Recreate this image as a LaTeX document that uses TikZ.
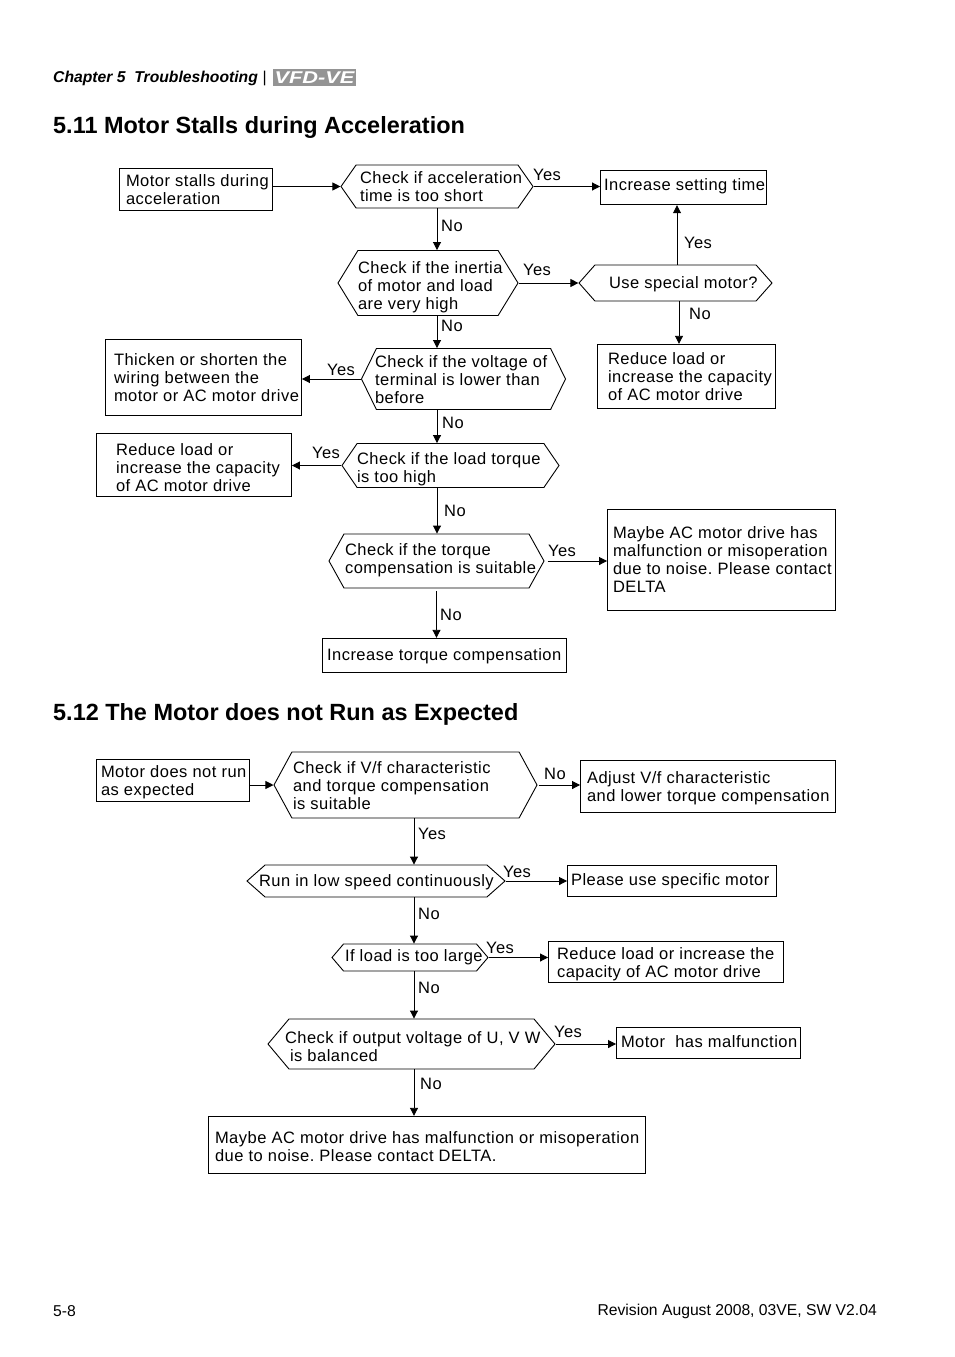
\documentclass[tikz,border=0pt]{standalone}
\usepackage{fontspec}
\usetikzlibrary{arrows.meta,shapes.symbols}
\setmainfont{Liberation Sans}
\newfontfamily\flowfam[LetterSpace=3]{Liberation Sans}
\newcommand{\flowfont}{\flowfam\fontsize{16.5}{18}\selectfont\frenchspacing}
\newcommand{\flowtext}[3][0]{\raisebox{\dimexpr#1pt-6.4pt\relax}[0pt][0pt]{\makebox[#2pt][l]{\begin{tabular}{@{}l@{}}#3\end{tabular}}}}
\tikzset{
  flowbox/.style = {draw, line width=0.9pt, inner sep=0pt, font=\flowfont},
  rectbox/.style 2 args = {flowbox, rectangle, minimum width=#1pt-1pt, minimum height=#2pt-0.5pt},
  hexbox/.style n args = {3}{flowbox, signal, signal to=east and west, signal pointer angle=#3, inner xsep=-40pt, minimum width=#1pt, minimum height=#2pt},
  flowarrow/.style = {-{Triangle[length=8pt,width=8pt]}, line width=0.9pt},
  flowlabel/.style = {font=\flowfont, inner sep=0pt, yshift=-1pt},
  sectiontitle/.style = {anchor=west, inner sep=0pt, font=\fontsize{23.45}{28}\selectfont\bfseries},
  pagetext/.style = {inner sep=0pt, font=\fontsize{15.7}{18}\selectfont},
}
\begin{document}
\begin{tikzpicture}
  [
    x = 1pt,
    y = -1pt,
  ]
  \useasboundingbox (0,0) rectangle (954,1357);

  \node [pagetext, anchor=west, font=\fontsize{15.7}{18}\selectfont\bfseries\itshape] (chapter) at (53,78) {Chapter 5\ \ Troubleshooting};
  \node [pagetext, anchor=west] (chapterbar) at (262.5,78) {|};
  \node [fill=black!42, text=white, minimum width=83pt, minimum height=17pt, inner sep=0pt, font=\fontsize{17}{17}\selectfont\bfseries\itshape] (logo) at (314.5,77.5) {\scalebox{1.28}[1]{VFD-VE}};
  \node [sectiontitle] (titleA) at (53,127) {5.11 Motor Stalls during Acceleration};
  \node [sectiontitle] (titleB) at (53,714) {5.12 The Motor does not Run as Expected};

  \node [rectbox={154}{43}] (stallstart) at (196,189.5) {\flowtext{140}{Motor stalls during\\acceleration}};
  \node [hexbox={192}{43}{110}] (checkaccel) at (437,186.5) {\flowtext{154}{Check if acceleration\\time is too short}};
  \node [rectbox={167}{35}] (settime) at (683.5,187.5) {\flowtext[2.75]{159}{Increase setting time}};
  \node [hexbox={180}{65}{117}] (checkinertia) at (428,283) {\flowtext[-3.25]{140}{Check if the inertia\\of motor and load\\are very high}};
  \node [hexbox={193}{36}{97}] (specialmotor) at (675.5,283) {\flowtext{133}{Use special motor?}};
  \node [rectbox={179}{65}] (reducetop) at (686.5,376.5) {\flowtext[-0.75]{157}{Reduce load or\\increase the capacity\\of AC motor drive}};
  \node [hexbox={204}{61}{128}] (checkvolt) at (463.5,379) {\flowtext[-0.75]{177}{Check if the voltage of\\terminal is lower than\\before}};
  \node [rectbox={197}{77}] (thicken) at (203.5,377.5) {\flowtext[-0.75]{179}{Thicken or shorten the\\wiring between the\\motor or AC motor drive}};
  \node [hexbox={217}{44}{111}] (checktorque) at (450.5,465.5) {\flowtext[-2.25]{187}{Check if the load torque\\is too high}};
  \node [rectbox={196}{64}] (reducemid) at (194,465) {\flowtext[-2.75]{156}{Reduce load or\\increase the capacity\\of AC motor drive}};
  \node [hexbox={215}{54}{122}] (checkcomp) at (436.5,561) {\flowtext[1.75]{183}{Check if the torque\\compensation is suitable}};
  \node [rectbox={229}{102}] (noisetop) at (721.5,560) {\flowtext{217}{Maybe AC motor drive has\\malfunction or misoperation\\due to noise. Please contact\\DELTA}};
  \node [rectbox={245}{35}] (inccomp) at (444.5,655.5) {\flowtext[0.75]{235}{Increase torque compensation}};

  \node [rectbox={154}{43}] (runstart) at (173,780.5) {\flowtext{144}{Motor does not run\\as expected}};
  \node [hexbox={263}{66}{123}] (checkvf) at (405.5,785) {\flowtext[-0.75]{225}{Check if V/f characteristic\\and torque compensation\\is suitable}};
  \node [rectbox={256}{53}] (adjustvf) at (708,786.5) {\flowtext[-0.75]{242}{Adjust V/f characteristic\\and lower torque compensation}};
  \node [hexbox={258}{32}{83}] (lowspeed) at (376,881) {\flowtext{234}{Run in low speed continuously}};
  \node [rectbox={210}{32}] (specific) at (672,881) {\flowtext[1.25]{202}{Please use specific motor}};
  \node [hexbox={156}{27}{99}] (loadlarge) at (410,957.5) {\flowtext[1.25]{130}{If load is too large}};
  \node [rectbox={236}{42}] (reducelow) at (666,962) {\flowtext[-0.75]{218}{Reduce load or increase the\\capacity of AC motor drive}};
  \node [hexbox={287}{50}{100}] (checkoutput) at (411.5,1044) {\flowtext[-2.75]{253}{Check if output voltage of U, V W\\\hspace*{5pt}is balanced}};
  \node [rectbox={185}{32}] (motorfault) at (708.5,1043) {\flowtext[1.25]{175}{Motor\ \ has malfunction}};
  \node [rectbox={438}{58}] (noiselow) at (427,1145) {\flowtext[-1.75]{424}{Maybe AC motor drive has malfunction or misoperation\\due to noise. Please contact DELTA.}};

  \draw [flowarrow] (stallstart.east |- checkaccel.west) -- (checkaccel.west);
  \draw [flowarrow] (checkaccel.east) -- (checkaccel.east -| settime.west)
    node [flowlabel] (yesaccel) at (547,174) {Yes};
  \draw [flowarrow] (checkaccel.south) -- (checkaccel.south |- checkinertia.north)
    node [flowlabel] (noaccel) at (452,225) {No};
  \draw [flowarrow] (checkinertia.east) -- (specialmotor.west)
    node [flowlabel] (yesinertia) at (537,269) {Yes};
  \draw [flowarrow] ([xshift=1.5pt]specialmotor.north) -- ([xshift=1.5pt]specialmotor.north |- settime.south)
    node [flowlabel] (yesspecial) at (698,242) {Yes};
  \draw [flowarrow] ([xshift=3.5pt]specialmotor.south) -- ([xshift=3.5pt]specialmotor.south |- reducetop.north)
    node [flowlabel] (nospecial) at (700,313) {No};
  \draw [flowarrow] (checkaccel.south |- checkinertia.south) -- (checkaccel.south |- checkvolt.north)
    node [flowlabel] (noinertia) at (452,325) {No};
  \draw [flowarrow] (checkvolt.west) -- (checkvolt.west -| thicken.east)
    node [flowlabel] (yesvolt) at (341,369) {Yes};
  \draw [flowarrow] (checkaccel.south |- checkvolt.south) -- (checkaccel.south |- checktorque.north)
    node [flowlabel] (novolt) at (453,422) {No};
  \draw [flowarrow] (checktorque.west) -- (checktorque.west -| reducemid.east)
    node [flowlabel] (yestorque) at (326,452) {Yes};
  \draw [flowarrow] (checkaccel.south |- checktorque.south) -- (checkaccel.south |- checkcomp.north)
    node [flowlabel] (notorque) at (455,510) {No};
  \draw [flowarrow] ([xshift=3pt]checkcomp.east) -- (checkcomp.east -| noisetop.west)
    node [flowlabel] (yescomp) at (562,550) {Yes};
  \draw [flowarrow] ([yshift=-3pt]checkcomp.south) -- (checkcomp.south |- inccomp.north)
    node [flowlabel] (nocomp) at (451,614) {No};

  \draw [flowarrow] (runstart.east |- checkvf.west) -- (checkvf.west);
  \draw [flowarrow] ([xshift=1pt]checkvf.east) -- (checkvf.east -| adjustvf.west)
    node [flowlabel] (novf) at (555,773) {No};
  \draw [flowarrow] ([xshift=8.5pt]checkvf.south) -- ([xshift=8.5pt]checkvf.south |- lowspeed.north)
    node [flowlabel] (yesvf) at (432,833) {Yes};
  \draw [flowarrow] (lowspeed.east) -- (specific.west)
    node [flowlabel] (yeslow) at (517,871) {Yes};
  \draw [flowarrow] ([xshift=8.5pt]checkvf.south |- lowspeed.south) -- ([xshift=8.5pt]checkvf.south |- loadlarge.north)
    node [flowlabel] (nolow) at (429,913) {No};
  \draw [flowarrow] (loadlarge.east) -- (loadlarge.east -| reducelow.west)
    node [flowlabel] (yesload) at (500,947) {Yes};
  \draw [flowarrow] ([xshift=8.5pt]checkvf.south |- loadlarge.south) -- ([xshift=8.5pt]checkvf.south |- checkoutput.north)
    node [flowlabel] (noload) at (429,987) {No};
  \draw [flowarrow] (checkoutput.east) -- (checkoutput.east -| motorfault.west)
    node [flowlabel] (yesoutput) at (568,1031) {Yes};
  \draw [flowarrow] ([xshift=8.5pt]checkvf.south |- checkoutput.south) -- ([xshift=8.5pt]checkvf.south |- noiselow.north)
    node [flowlabel] (nooutput) at (431,1083) {No};

  \node [pagetext, anchor=west] (pagenumber) at (53,1311) {5-8};
  \node [pagetext, anchor=east] (revision) at (877,1311) {Revision August 2008, 03VE, SW V2.04};
\end{tikzpicture}
\end{document}
